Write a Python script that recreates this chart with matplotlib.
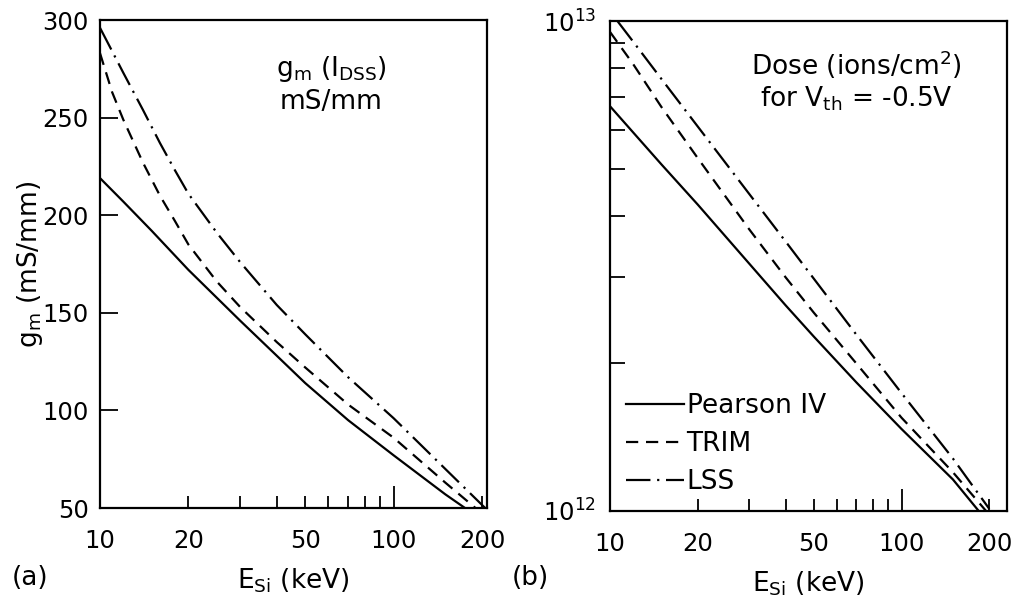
import matplotlib
matplotlib.use("Agg")
import matplotlib.pyplot as plt

plt.rcParams['font.family'] = ['DejaVu Sans']
plt.rcParams['mathtext.fontset'] = 'dejavusans'

# ---- data: panel (a) transconductance g_m (mS/mm) vs E_Si (keV)
pearson_a_E = [10, 12, 15, 20, 30, 40, 50, 70, 100, 150, 175]
pearson_a_g = [219, 207, 192, 172, 146, 128, 114, 95, 77, 57, 50]
trim_a_E = [10, 11, 12, 14, 16, 18, 20, 25, 30, 40, 50, 70, 100, 150, 190]
trim_a_g = [283, 263, 249, 227, 210, 197, 185, 166, 153, 135, 122, 103, 86, 63, 50]
lss_a_E = [10, 11, 12, 14, 16, 18, 20, 25, 30, 40, 50, 70, 100, 150, 205]
lss_a_g = [296, 284, 273, 254, 237, 223, 211, 191, 176, 154, 139, 117, 96, 70, 50]

# ---- data: panel (b) dose (ions/cm^2) for Vth = -0.5 V vs E_Si (keV)
pearson_b_E = [10, 15, 20, 30, 40, 50, 70, 100, 150, 184]
pearson_b_D = [6.7e12, 5.1e12, 4.22e12, 3.2e12, 2.63e12, 2.27e12, 1.83e12, 1.47e12, 1.16e12, 1.0e12]
trim_b_E = [10, 12, 15, 20, 30, 40, 50, 70, 100, 150, 195]
trim_b_D = [9.5e12, 8.17e12, 6.68e12, 5.25e12, 3.76e12, 3.0e12, 2.54e12, 2.0e12, 1.55e12, 1.2e12, 1.0e12]
lss_b_E = [10.6, 12, 15, 20, 30, 40, 50, 70, 100, 150, 200]
lss_b_D = [1e13, 9.08e12, 7.62e12, 6.09e12, 4.44e12, 3.55e12, 2.98e12, 2.29e12, 1.74e12, 1.28e12, 1.01e12]

series_names = ['Pearson IV', 'TRIM', 'LSS']
x_major = [10, 100]
x_minor = [20, 30, 40, 50, 60, 70, 80, 90, 200]
x_minor_labels = ['20', '', '', '50', '', '', '', '', '200']
y_ticks_a = [50, 100, 150, 200, 250, 300]

W, H = 1033, 601
fig = plt.figure(figsize=(W / 100, H / 100), dpi=100)
axA = fig.add_axes([100 / W, 1 - 508 / H, 387 / W, 488 / H])
axB = fig.add_axes([610 / W, 1 - 511 / H, 397 / W, 490 / H])

LW = 1.6
FS = 19      # text size
TFS = 17.5   # tick label size
dash_style = (5.5, 3.5)
dashdot_style = (11, 3, 1, 3)

def style_x(ax, xmax):
    ax.set_xscale('log')
    ax.set_xlim(10, xmax)
    ax.set_xticks(x_major)
    ax.set_xticklabels([str(v) for v in x_major])
    ax.set_xticks(x_minor, minor=True)
    ax.set_xticklabels(x_minor_labels, minor=True)
    ax.tick_params(axis='x', which='major', direction='in', length=16, width=1.3,
                   pad=15, labelsize=TFS, top=False)
    ax.tick_params(axis='x', which='minor', direction='in', length=9, width=1.3,
                   pad=15, labelsize=TFS, top=False)
    for s in ax.spines.values():
        s.set_linewidth(1.6)
    ax.set_xlabel(r'E$_{\mathrm{Si}}$ (keV)', fontsize=FS, labelpad=10)

# ---- panel (a)
axA.plot(pearson_a_E, pearson_a_g, color='black', lw=LW)
axA.plot(trim_a_E, trim_a_g, color='black', lw=LW, dashes=dash_style)
axA.plot(lss_a_E, lss_a_g, color='black', lw=LW, dashes=dashdot_style)
style_x(axA, 208)
axA.set_ylim(50, 300)
axA.set_yticks(y_ticks_a)
axA.tick_params(axis='y', which='both', direction='in', length=13, width=1.3,
                labelsize=TFS, right=False, pad=8)
axA.set_ylabel(r'g$_{\mathrm{m}}$ (mS/mm)', fontsize=FS, labelpad=-2)
axA.text(0.597, 0.885, r'g$_{\mathrm{m}}$ (I$_{\mathrm{DSS}}$)', transform=axA.transAxes,
         ha='center', va='baseline', fontsize=FS)
axA.text(0.597, 0.818, 'mS/mm', transform=axA.transAxes, ha='center', va='baseline', fontsize=FS)
fig.text(30 / W, 1 - 578 / H, '(a)', ha='center', va='center', fontsize=FS)

# ---- panel (b)
axB.plot(pearson_b_E, pearson_b_D, color='black', lw=LW, label=series_names[0])
axB.plot(trim_b_E, trim_b_D, color='black', lw=LW, dashes=dash_style, label=series_names[1])
axB.plot(lss_b_E, lss_b_D, color='black', lw=LW, dashes=dashdot_style, label=series_names[2])
style_x(axB, 230)
axB.set_yscale('log')
axB.set_ylim(1e12, 1e13)
axB.set_yticks([1e12, 1e13])
axB.set_yticklabels([r'10$^{12}$', r'10$^{13}$'])
axB.set_yticks([k * 1e12 for k in range(2, 10)], minor=True)
axB.set_yticklabels([], minor=True)
axB.tick_params(axis='y', which='both', direction='in', length=11, width=1.3,
                labelsize=TFS, right=False, pad=10)
axB.text(0.62, 0.89, r'Dose (ions/cm$^{2}$)', transform=axB.transAxes,
         ha='center', va='baseline', fontsize=FS)
axB.text(0.62, 0.826, r'for V$_{\mathrm{th}}$ = -0.5V', transform=axB.transAxes,
         ha='center', va='baseline', fontsize=FS)
leg = axB.legend(loc='lower left', bbox_to_anchor=(0.0, 0.0), frameon=False,
                 fontsize=FS, handlelength=2.2, handletextpad=0.1,
                 labelspacing=0.45, borderaxespad=0.2)
fig.text(530 / W, 1 - 578 / H, '(b)', ha='center', va='center', fontsize=FS)

fig.savefig('out.png', dpi=100)
